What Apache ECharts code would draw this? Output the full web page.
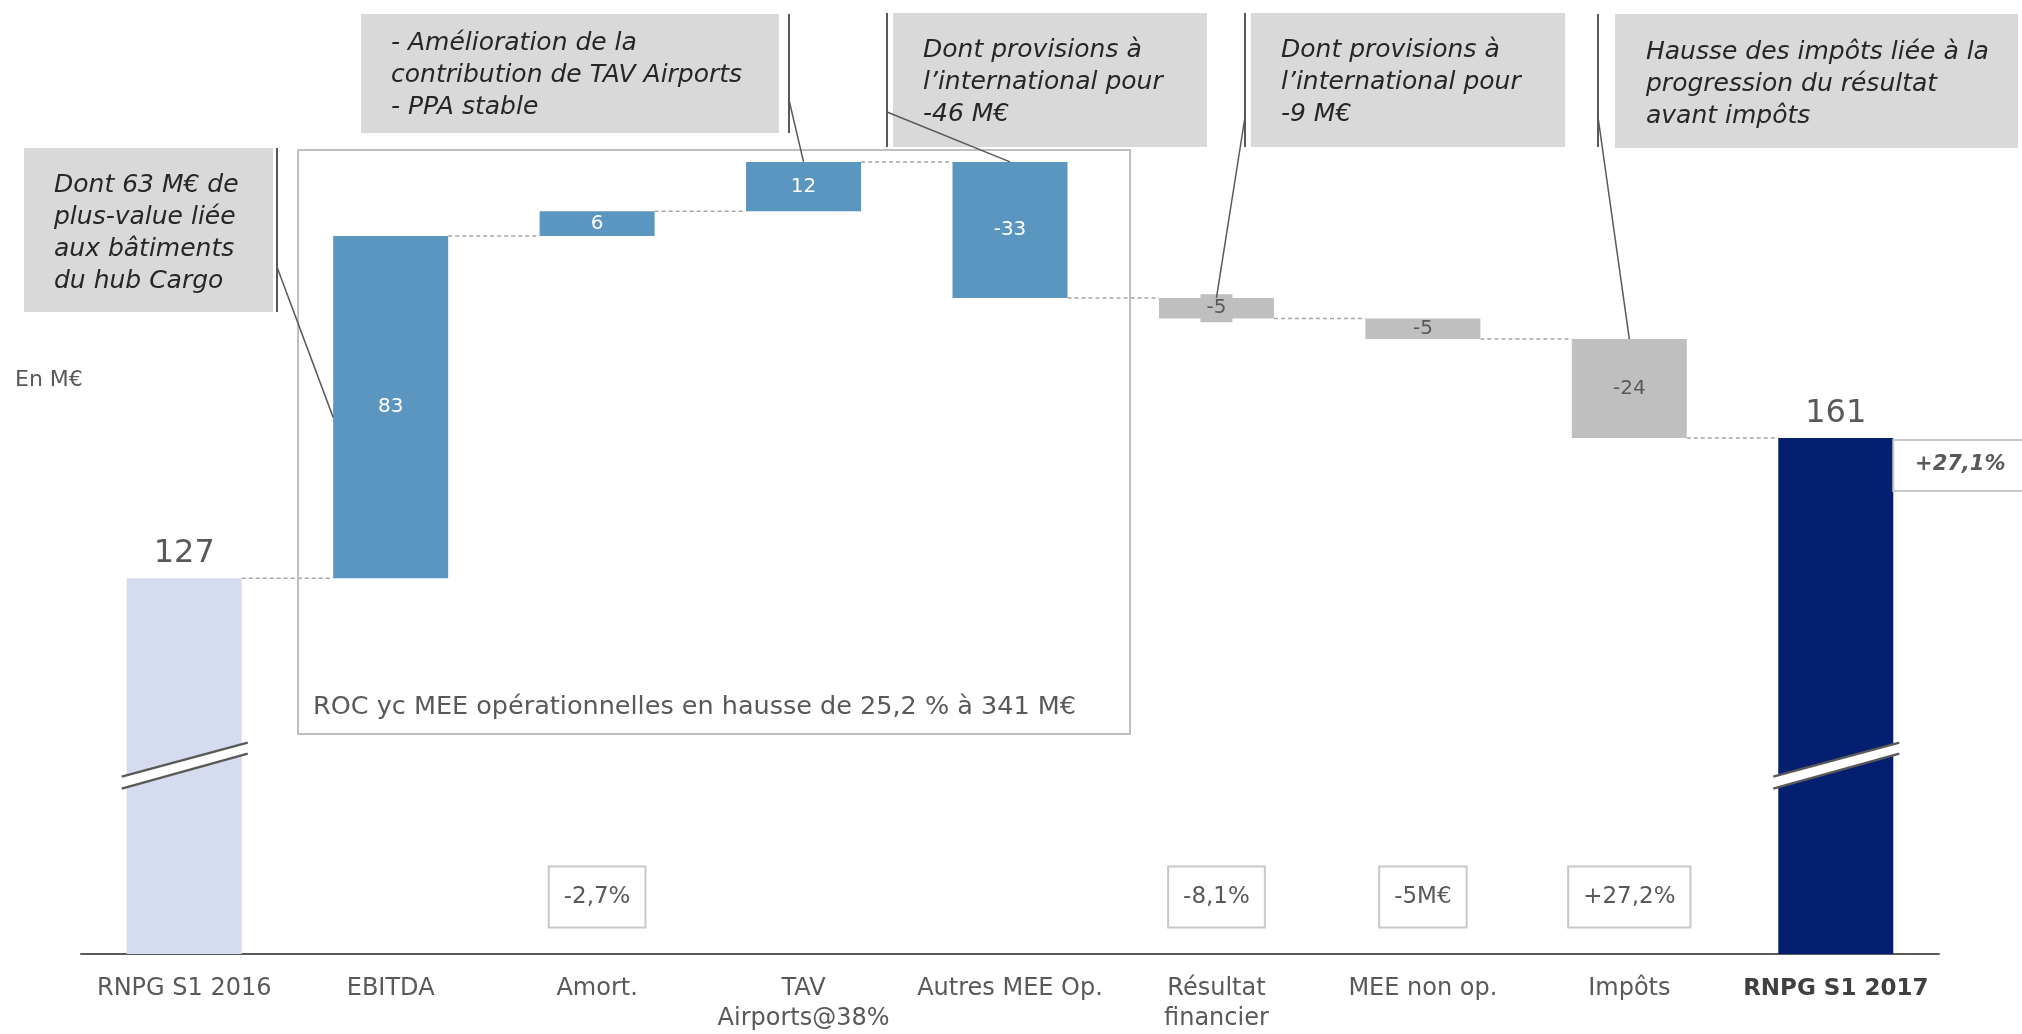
<!DOCTYPE html>
<html><head><meta charset="utf-8">
<script src="https://cdn.jsdelivr.net/npm/echarts@6/dist/echarts.min.js"></script>
<style>html,body{margin:0;padding:0;background:#fff}#c{width:2022px;height:1034px}</style>
</head><body><div id="c"></div>
<script>
// ---------- data ----------
const categories = ['RNPG S1 2016','EBITDA','Amort.','TAV\nAirports@38%','Autres MEE Op.','Résultat\nfinancier','MEE non op.','Impôts','RNPG S1 2017'];
const deltas = [127, 83, 6, 12, -33, -5, -5, -24, 161];
const kinds = ['total','op','op','op','op','other','other','other','final'];
const variationLabels = ['', '', '-2,7%', '', '', '-8,1%', '-5M€', '+27,2%', ''];
const totalChangeLabel = '+27,1%';
const rocNote = 'ROC yc MEE opérationnelles en hausse de 25,2 % à 341 M€';
const unitLabel = 'En M€';
const noteTexts = [
  'Dont 63 M€ de\nplus-value liée\naux bâtiments\ndu hub Cargo',
  '- Amélioration de la\ncontribution de TAV Airports\n- PPA stable',
  'Dont provisions à\nl\u2019international pour\n-46 M€',
  'Dont provisions à\nl\u2019international pour\n-9 M€',
  'Hausse des impôts liée à la\nprogression du résultat\navant impôts'
];
const noteTargets = [1, 3, 4, 5, 7]; // category each note points to

// ---------- derived waterfall ----------
const base = [], visible = [], levels = [];
let run = 0;
deltas.forEach((d, i) => {
  if (kinds[i] === 'total' || kinds[i] === 'final') { base.push(0); visible.push(d); run = d; }
  else { const nr = run + d; base.push(Math.min(run, nr)); visible.push(Math.abs(d)); run = nr; }
  levels.push(run);
});
const tops = base.map((b, i) => b + visible[i]);

const FONT = 'DejaVu Sans';
const GREY_TXT = '#595959';
const colors = {total: '#d6dcf0', op: '#5b96c1', other: '#bfbfbf', final: '#041f70'};
const BAR_W = 115;

const chart = echarts.init(document.getElementById('c'), null, {renderer: 'canvas'});

const barData = visible.map((v, i) => {
  const k = kinds[i];
  const item = {value: v, itemStyle: {color: colors[k]}};
  if (k === 'total' || k === 'final') {
    item.label = {show: true, position: 'top', distance: 8, color: GREY_TXT, fontSize: 32, fontFamily: FONT};
  } else if (k === 'op') {
    item.label = {show: true, position: 'inside', color: '#fff', fontSize: 20, fontFamily: FONT};
  } else {
    item.label = {show: true, position: 'inside', color: GREY_TXT, fontSize: 20, fontFamily: FONT};
    if (i === 5) { item.label.backgroundColor = '#bfbfbf'; item.label.padding = [4, 6]; }
  }
  return item;
});

const connectorData = levels.slice(0, levels.length - 1).map((lv, i) => [i, lv]);

chart.setOption({
  animation: false,
  backgroundColor: '#fff',
  grid: {left: 81, right: 83, top: 30, bottom: 78},
  xAxis: {
    type: 'category', data: categories,
    axisLine: {lineStyle: {color: GREY_TXT, width: 2}},
    axisTick: {show: false},
    axisLabel: {
      interval: 0, color: GREY_TXT, fontSize: 24, fontFamily: FONT, lineHeight: 30, margin: 20,
      formatter: (v, i) => i === categories.length - 1 ? '{b|' + v + '}' : v,
      rich: {b: {fontWeight: 'bold', fontSize: 23, color: '#404040', fontFamily: FONT}}
    }
  },
  yAxis: {type: 'value', min: 35.8, max: 260, show: false, splitLine: {show: false}},
  series: [
    {type: 'bar', stack: 'w', barWidth: BAR_W, data: base, itemStyle: {color: 'transparent'}, silent: true},
    {type: 'bar', stack: 'w', barWidth: BAR_W, data: barData,
     label: {formatter: p => String(deltas[p.dataIndex])}},
    {type: 'custom', data: connectorData, z: 1,
     renderItem: (params, api) => {
       const i = api.value(0), lv = api.value(1);
       const p1 = api.coord([i, lv]), p2 = api.coord([i + 1, lv]);
       return {type: 'line', shape: {x1: p1[0] + BAR_W / 2, y1: p1[1], x2: p2[0] - BAR_W / 2, y2: p2[1]},
               style: {stroke: '#a6a6a6', lineWidth: 1.5, lineDash: [4, 3]}};
     }}
  ]
});

// ---------- annotations ----------
const px = (ci, v) => chart.convertToPixel({xAxisIndex: 0, yAxisIndex: 0}, [ci, v]);
const g = [];

// ROC frame
g.push({type: 'rect', shape: {x: 298, y: 150, width: 832, height: 584}, style: {fill: 'none', stroke: '#bfbfbf', lineWidth: 2}, z: 5});
g.push({type: 'text', x: 313, y: 707, style: {text: rocNote, fontSize: 25.5, fontFamily: FONT, fill: GREY_TXT, verticalAlign: 'middle'}, z: 6});
g.push({type: 'text', x: 15, y: 380, style: {text: unitLabel, fontSize: 22, fontFamily: FONT, fill: GREY_TXT, verticalAlign: 'middle'}, z: 6});

// note boxes: [rect x, y, w, h, text x, text top, vertical line x, line y1, line y2, leader start y]
const boxGeo = [
  [24, 148, 249, 164, 54, 169, 277, 148, 312, 267],
  [361, 14, 418, 119, 391, 27, 789, 14, 133, 100],
  [893, 13, 314, 134, 923, 34, 887, 13, 147, 112],
  [1251, 13, 314, 134, 1281, 34, 1245, 13, 147, 117],
  [1615, 14, 403, 134, 1646, 36, 1598, 14, 147, 117]
];
noteTexts.forEach((t, k) => {
  const b = boxGeo[k];
  g.push({type: 'rect', shape: {x: b[0], y: b[1], width: b[2], height: b[3]}, style: {fill: '#d9d9d9'}, z: 5});
  g.push({type: 'text', x: b[4], y: b[5], style: {text: t, fontSize: 25, fontStyle: 'italic', fontFamily: FONT, fill: '#262626', lineHeight: 32, verticalAlign: 'top'}, z: 6});
  g.push({type: 'line', shape: {x1: b[6], y1: b[7], x2: b[6], y2: b[8]}, style: {stroke: GREY_TXT, lineWidth: 2}, z: 6});
  const ci = noteTargets[k];
  let end;
  if (k === 0) { const p = px(ci, base[ci] + visible[ci] * 0.47); end = [p[0] - BAR_W / 2, p[1]]; }
  else { end = px(ci, tops[ci]); }
  g.push({type: 'line', shape: {x1: b[6], y1: b[9], x2: end[0], y2: end[1]}, style: {stroke: GREY_TXT, lineWidth: 1.5}, z: 7});
});

// axis break marks on the two total bars
const breakValue = 81.5;
[0, categories.length - 1].forEach(ci => {
  const c = px(ci, breakValue);
  const L = c[0] - 62.5, R = c[0] + 63.5, cy = c[1];
  g.push({type: 'polygon', shape: {points: [[L, cy + 11], [R, cy - 23], [R, cy - 12], [L, cy + 23]]}, style: {fill: '#fff'}, z: 8});
  g.push({type: 'line', shape: {x1: L, y1: cy + 11, x2: R, y2: cy - 23}, style: {stroke: GREY_TXT, lineWidth: 2.5}, z: 9});
  g.push({type: 'line', shape: {x1: L, y1: cy + 23, x2: R, y2: cy - 12}, style: {stroke: GREY_TXT, lineWidth: 2.5}, z: 9});
});

// variation boxes below bars
variationLabels.forEach((t, i) => {
  if (!t) return;
  const c = px(i, 100);
  g.push({type: 'text', x: c[0], y: 897, style: {text: t, fontSize: 23, fontFamily: FONT, fill: GREY_TXT, align: 'center', verticalAlign: 'middle', padding: [18, 14, 18, 14], borderColor: '#c8c8c8', borderWidth: 2, backgroundColor: '#fff'}, z: 6});
});

// total change box next to last bar
const last = px(categories.length - 1, tops[categories.length - 1]);
const bx = last[0] + BAR_W / 2;
g.push({type: 'rect', shape: {x: bx, y: last[1] + 2, width: 160, height: 51}, style: {fill: '#fff', stroke: '#c8c8c8', lineWidth: 2}, z: 5});
g.push({type: 'text', x: bx + 67, y: last[1] + 27, style: {text: totalChangeLabel, fontSize: 21, fontWeight: 'bold', fontStyle: 'italic', fontFamily: FONT, fill: GREY_TXT, align: 'center', verticalAlign: 'middle'}, z: 6});

chart.setOption({graphic: {elements: g}});
</script></body></html>
